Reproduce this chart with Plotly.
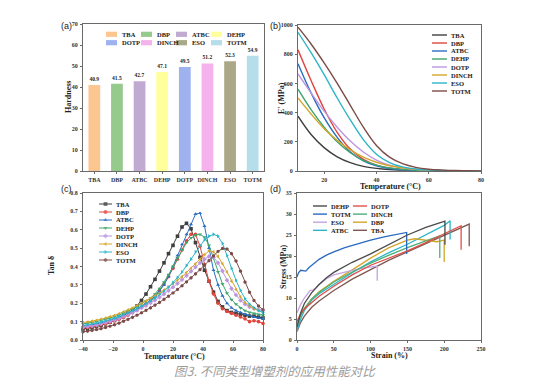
import plotly.graph_objects as go

W, H = 541, 392

# ---------------- data ----------------
plasticizers = ["TBA", "DBP", "ATBC", "DEHP", "DOTP", "DINCH", "ESO", "TOTM"]

# (a) hardness
hardness = [40.9, 41.5, 42.7, 47.1, 49.5, 51.2, 52.3, 54.9]
hardness_labels = ["40.9", "41.5", "42.7", "47.1", "49.5", "51.2", "52.3", "54.9"]

# (b) storage modulus E' (MPa) vs temperature
temp_b = [10, 15, 20, 25, 30, 35, 40, 45, 50, 55, 60, 65, 70, 75, 80]
E_TBA = [375, 250, 160, 97, 57, 32, 18, 10, 6, 3, 2, 1, 1, 0, 0]
E_DBP = [830, 620, 425, 265, 150, 80, 40, 20, 10, 5, 3, 2, 1, 1, 0]
E_ATBC = [735, 535, 365, 230, 130, 70, 35, 17, 8, 4, 2, 1, 1, 0, 0]
E_DEHP = [560, 420, 300, 200, 125, 72, 40, 21, 11, 6, 3, 2, 1, 1, 0]
E_DOTP = [665, 535, 410, 300, 205, 130, 75, 40, 21, 11, 6, 3, 2, 1, 1]
E_DINCH = [500, 390, 290, 210, 145, 95, 60, 36, 21, 12, 7, 4, 2, 1, 1]
E_ESO = [950, 810, 660, 500, 350, 215, 115, 58, 28, 14, 7, 3, 2, 1, 1]
E_TOTM = [985, 870, 740, 600, 450, 300, 175, 95, 50, 25, 12, 6, 3, 2, 1]

# (c) tan delta vs temperature
temp_c = [-40, -37, -34, -31, -28, -25, -22, -19, -16, -13, -10, -7, -4, -1, 2, 5, 8, 11, 14, 17,
          20, 23, 26, 29, 32, 35, 38, 41, 44, 47, 50, 53, 56, 59, 62, 65, 68, 71, 74, 77, 80]
tan_TBA = [0.060, 0.063, 0.068, 0.074, 0.080, 0.088, 0.097, 0.107, 0.118, 0.130, 0.145, 0.162, 0.185, 0.215,
           0.250, 0.290, 0.330, 0.375, 0.420, 0.470, 0.515, 0.565, 0.615, 0.635, 0.605, 0.530, 0.450, 0.380,
           0.320, 0.260, 0.210, 0.180, 0.160, 0.150, 0.145, 0.140, 0.135, 0.130, 0.130, 0.125, 0.120]
tan_DBP = [0.065, 0.068, 0.072, 0.077, 0.083, 0.089, 0.096, 0.104, 0.113, 0.123, 0.135, 0.148, 0.162, 0.178,
           0.195, 0.215, 0.240, 0.270, 0.305, 0.345, 0.390, 0.440, 0.490, 0.540, 0.575, 0.575, 0.510, 0.410,
           0.320, 0.250, 0.200, 0.170, 0.155, 0.145, 0.135, 0.125, 0.115, 0.100, 0.105, 0.100, 0.090]
tan_ATBC = [0.075, 0.078, 0.082, 0.087, 0.093, 0.099, 0.106, 0.114, 0.123, 0.133, 0.144, 0.156, 0.169, 0.183,
            0.198, 0.215, 0.235, 0.265, 0.300, 0.345, 0.400, 0.460, 0.520, 0.575, 0.630, 0.685, 0.690, 0.620,
            0.500, 0.380, 0.300, 0.240, 0.200, 0.175, 0.160, 0.150, 0.140, 0.135, 0.125, 0.120, 0.115]
tan_DEHP = [0.088, 0.091, 0.095, 0.100, 0.106, 0.112, 0.119, 0.127, 0.136, 0.146, 0.157, 0.169, 0.182, 0.196,
            0.211, 0.228, 0.250, 0.280, 0.315, 0.355, 0.400, 0.445, 0.490, 0.530, 0.555, 0.570, 0.575, 0.560,
            0.515, 0.445, 0.370, 0.305, 0.255, 0.220, 0.195, 0.175, 0.160, 0.150, 0.145, 0.140, 0.135]
tan_DOTP = [0.070, 0.073, 0.077, 0.082, 0.088, 0.094, 0.101, 0.109, 0.118, 0.128, 0.138, 0.149, 0.161, 0.174,
            0.187, 0.201, 0.216, 0.232, 0.250, 0.268, 0.287, 0.307, 0.328, 0.350, 0.373, 0.397, 0.420, 0.440,
            0.455, 0.450, 0.420, 0.375, 0.325, 0.280, 0.245, 0.215, 0.195, 0.180, 0.170, 0.165, 0.160]
tan_DINCH = [0.095, 0.098, 0.102, 0.107, 0.113, 0.119, 0.126, 0.134, 0.143, 0.153, 0.163, 0.174, 0.186, 0.199,
             0.212, 0.226, 0.240, 0.255, 0.271, 0.288, 0.306, 0.325, 0.345, 0.367, 0.390, 0.415, 0.440, 0.465,
             0.485, 0.480, 0.455, 0.415, 0.370, 0.320, 0.275, 0.235, 0.205, 0.185, 0.170, 0.160, 0.150]
tan_ESO = [0.080, 0.083, 0.087, 0.092, 0.098, 0.104, 0.111, 0.119, 0.128, 0.138, 0.148, 0.159, 0.171, 0.184,
           0.198, 0.213, 0.229, 0.247, 0.266, 0.288, 0.312, 0.340, 0.370, 0.405, 0.440, 0.480, 0.515, 0.545,
           0.565, 0.575, 0.565, 0.525, 0.460, 0.390, 0.325, 0.270, 0.225, 0.195, 0.175, 0.160, 0.150]
tan_TOTM = [0.045, 0.048, 0.052, 0.057, 0.062, 0.068, 0.075, 0.083, 0.092, 0.102, 0.112, 0.123, 0.135, 0.148,
            0.161, 0.175, 0.190, 0.205, 0.221, 0.238, 0.256, 0.275, 0.295, 0.316, 0.338, 0.360, 0.383, 0.407,
            0.432, 0.458, 0.482, 0.498, 0.495, 0.470, 0.430, 0.375, 0.315, 0.260, 0.215, 0.185, 0.165]

# (d) stress-strain curves
strain_DEHP = [0, 5, 10, 20, 30, 40, 50, 75, 100, 125, 150, 175, 201, 201]
stress_DEHP = [3.0, 6.5, 8.7, 11.3, 13.2, 14.8, 16.1, 18.5, 20.5, 22.8, 25.0, 26.8, 28.3, 22.7]
strain_DOTP = [0, 5, 10, 20, 30, 50, 75, 100, 125, 150, 175, 200, 223, 223]
stress_DOTP = [4.5, 6.2, 7.4, 9.0, 10.4, 12.8, 15.5, 17.8, 19.5, 21.2, 23.2, 25.2, 27.2, 21.5]
strain_TOTM = [0, 2, 5, 8, 12, 16, 20, 25, 30, 40, 50, 65, 80, 100, 120, 135, 149, 149]
stress_TOTM = [15.0, 16.0, 16.6, 16.5, 16.4, 17.2, 17.8, 18.6, 19.2, 20.2, 21.0, 22.0, 22.8, 23.8, 24.6, 25.1, 25.6, 20.5]
strain_DINCH = [0, 5, 10, 20, 30, 50, 75, 100, 125, 150, 175, 194, 194]
stress_DINCH = [3.5, 5.8, 7.5, 9.8, 11.3, 13.8, 16.2, 18.3, 20.2, 22.0, 23.6, 24.8, 19.5]
strain_ESO = [0, 5, 10, 15, 18, 22, 25, 30, 40, 50, 60, 75, 90, 100, 109, 109]
stress_ESO = [6.5, 8.5, 10.0, 11.2, 11.8, 11.9, 12.3, 13.2, 14.6, 15.5, 16.0, 16.6, 17.1, 17.3, 17.6, 14.1]
strain_DBP = [0, 5, 10, 20, 30, 50, 75, 100, 125, 150, 160, 175, 190, 200, 200]
stress_DBP = [4.0, 6.0, 7.5, 9.8, 11.5, 14.0, 16.7, 19.5, 22.0, 23.8, 24.1, 23.8, 23.4, 23.8, 18.6]
strain_ATBC = [0, 5, 10, 20, 30, 50, 75, 100, 125, 150, 175, 200, 208, 208]
stress_ATBC = [2.2, 5.0, 7.0, 9.5, 11.0, 13.3, 16.0, 18.6, 20.8, 22.8, 25.0, 27.3, 28.4, 23.9]
strain_TBA = [0, 5, 10, 20, 30, 50, 75, 100, 125, 150, 175, 200, 234, 234]
stress_TBA = [2.0, 4.2, 5.7, 7.8, 9.3, 11.8, 14.5, 16.8, 19.0, 21.0, 23.0, 25.0, 27.6, 22.3]

# ---------------- styles ----------------
bar_colors = ["#FBC690", "#96C98C", "#C0AAD2", "#FFFF9C", "#9FB2F0", "#F5B3EC", "#ABA888", "#B5DEEA"]
line_colors = {"TBA": "#3f3f3f", "DBP": "#e0463e", "ATBC": "#2a6ec0", "DEHP": "#3fa56c",
               "DOTP": "#bd96e2", "DINCH": "#d3a52c", "ESO": "#2cb5c7", "TOTM": "#7b4c48"}
markers = {"TBA": "square", "DBP": "circle", "ATBC": "triangle-up", "DEHP": "triangle-down",
           "DOTP": "diamond", "DINCH": "triangle-left", "ESO": "triangle-right", "TOTM": "hexagon"}
d_order = ["DEHP", "DOTP", "TOTM", "DINCH", "ESO", "DBP", "ATBC", "TBA"]
d_colors = {"DEHP": "#4a4a4a", "DOTP": "#e04f49", "TOTM": "#2a69c0", "DINCH": "#4caf78",
            "ESO": "#c4a2e2", "DBP": "#d4a52a", "ATBC": "#2cb5c7", "TBA": "#7d5852"}

SERIF = "Liberation Serif"
tickfont = dict(family=SERIF, size=6, color="#333333", weight="bold")
titlefont = dict(family=SERIF, size=8, color="#222222", weight="bold")
legfont = dict(family=SERIF, size=6.5, color="#222222", weight="bold")


def px(x):
    return x / W


def py(y):
    return 1 - y / H


# panel boxes in pixels (x0, x1, ytop, ybottom)
A = (83, 264, 24, 171)
B = (298, 481, 25, 171)
C = (83, 263, 193, 340)
D = (297, 481, 193, 340)


def axis(box, horiz, **kw):
    dom = [px(box[0]), px(box[1])] if horiz else [py(box[3]), py(box[2])]
    base = dict(domain=dom, showline=True, linecolor="#6a6a6a", linewidth=1, mirror=True,
                ticks="outside", ticklen=2, tickwidth=1, tickcolor="#6a6a6a", showgrid=False,
                zeroline=False, tickfont=tickfont, ticklabelstandoff=1, automargin=False)
    base.update(kw)
    return base


fig = go.Figure()

# (a) bars
fig.add_trace(go.Bar(x=plasticizers, y=hardness, marker=dict(color=bar_colors, line=dict(width=0)),
                     width=0.52, text=hardness_labels, textposition="outside", cliponaxis=False,
                     textfont=dict(family=SERIF, size=5.5, color="#222", weight="bold"),
                     xaxis="x", yaxis="y", showlegend=False))

# (b) E' curves
E_series = [E_TBA, E_DBP, E_ATBC, E_DEHP, E_DOTP, E_DINCH, E_ESO, E_TOTM]
for name, vals in zip(plasticizers, E_series):
    fig.add_trace(go.Scatter(x=temp_b, y=vals, mode="lines", line=dict(color=line_colors[name], width=1.4,
                             shape="spline", smoothing=1.0), xaxis="x2", yaxis="y2", showlegend=False))

# (c) tan delta
tan_series = [tan_TBA, tan_DBP, tan_ATBC, tan_DEHP, tan_DOTP, tan_DINCH, tan_ESO, tan_TOTM]
for name, vals in zip(plasticizers, tan_series):
    fig.add_trace(go.Scatter(x=temp_c, y=vals, mode="lines+markers",
                             line=dict(color=line_colors[name], width=1),
                             marker=dict(symbol=markers[name], size=3.6, color=line_colors[name]),
                             cliponaxis=False, xaxis="x3", yaxis="y3", showlegend=False))

# (d) stress-strain
d_data = {"DEHP": (strain_DEHP, stress_DEHP), "DOTP": (strain_DOTP, stress_DOTP),
          "TOTM": (strain_TOTM, stress_TOTM), "DINCH": (strain_DINCH, stress_DINCH),
          "ESO": (strain_ESO, stress_ESO), "DBP": (strain_DBP, stress_DBP),
          "ATBC": (strain_ATBC, stress_ATBC), "TBA": (strain_TBA, stress_TBA)}
for name in reversed(d_order):
    sx, sy = d_data[name]
    fig.add_trace(go.Scatter(x=sx, y=sy, mode="lines", line=dict(color=d_colors[name], width=1.3),
                             xaxis="x4", yaxis="y4", showlegend=False))

shapes = []
annotations = []

# legend (a): 2 rows x 4 columns of patches
for i, name in enumerate(plasticizers):
    r, c = divmod(i, 4)
    x0 = 106 + 35 * c
    yc = 34.3 + 8.4 * r
    shapes.append(dict(type="rect", xref="paper", yref="paper", x0=px(x0), x1=px(x0 + 11),
                       y0=py(yc + 2.6), y1=py(yc - 2.6), fillcolor=bar_colors[i], line=dict(width=0)))
    annotations.append(dict(x=px(x0 + 13.5), y=py(yc), xref="paper", yref="paper", text=name,
                            showarrow=False, xanchor="left", yanchor="middle", font=legfont))

# legend (b)
for i, name in enumerate(plasticizers):
    yc = 35 + 8 * i
    shapes.append(dict(type="line", xref="paper", yref="paper", x0=px(432), x1=px(447),
                       y0=py(yc), y1=py(yc), line=dict(color=line_colors[name], width=1.4)))
    annotations.append(dict(x=px(449), y=py(yc), xref="paper", yref="paper", text=name,
                            showarrow=False, xanchor="left", yanchor="middle", font=legfont))

# legend (c) with markers on a full-figure pixel overlay axis
for i, name in enumerate(plasticizers):
    yc = 204 + 8 * i
    fig.add_trace(go.Scatter(x=[99, 105.5, 112], y=[yc, yc, yc], mode="lines+markers",
                             line=dict(color=line_colors[name], width=1),
                             marker=dict(symbol=markers[name], size=[0, 3.8, 0], color=line_colors[name],
                                         line=dict(width=0)),
                             xaxis="x9", yaxis="y9", showlegend=False, hoverinfo="skip"))
    annotations.append(dict(x=px(114), y=py(yc), xref="paper", yref="paper", text=name,
                            showarrow=False, xanchor="left", yanchor="middle", font=legfont))

# legend (d): 2 columns
for i, name in enumerate(d_order):
    r, c = divmod(i, 2)
    x0 = 313 + 40 * c
    yc = 206 + 8.1 * r
    shapes.append(dict(type="line", xref="paper", yref="paper", x0=px(x0), x1=px(x0 + 14),
                       y0=py(yc), y1=py(yc), line=dict(color=d_colors[name], width=1.4)))
    annotations.append(dict(x=px(x0 + 16), y=py(yc), xref="paper", yref="paper", text=name,
                            showarrow=False, xanchor="left", yanchor="middle", font=legfont))

# panel labels
for lab, (x, y) in {"(a)": (60, 20), "(b)": (275, 20), "(c)": (60, 189), "(d)": (275, 189)}.items():
    annotations.append(dict(x=px(x), y=py(y), xref="paper", yref="paper", text=lab, showarrow=False,
                            font=dict(family="Liberation Sans", size=9, color="#222"), borderpad=0))

# axis titles
titles = [("Hardness", 68, 97, -90), ("E' (MPa)", 281, 98, -90), ("Temperature (°C)", 390, 186.5, 0),
          ("Tan δ", 51, 266, -90), ("Temperature (°C)", 174, 356, 0),
          ("Stress (MPa)", 283, 267, -90), ("Strain (%)", 389, 355, 0)]
for txt, x, y, ang in titles:
    annotations.append(dict(x=px(x), y=py(y), xref="paper", yref="paper", text=txt, showarrow=False,
                            textangle=ang, font=titlefont, xanchor="center", yanchor="middle",
                            borderpad=0))

# caption
annotations.append(dict(x=px(275), y=py(382), xref="paper", yref="paper",
                        text="图3. 不同类型增塑剂的应用性能对比", showarrow=False,
                        font=dict(family="Noto Sans CJK SC", size=12.5, color="#9c9c9c", style="italic")))

fig.update_layout(
    template="none",
    width=W, height=H, margin=dict(l=0, r=0, t=0, b=0, pad=0, autoexpand=False),
    paper_bgcolor="white", plot_bgcolor="rgba(0,0,0,0)", showlegend=False,
    xaxis=axis(A, True, anchor="y", type="category", range=[-0.5, 7.5], ticks="outside"),
    yaxis=axis(A, False, anchor="x", range=[0, 70], dtick=10),
    xaxis2=axis(B, True, anchor="y2", range=[10, 80], tickvals=[20, 40, 60, 80]),
    yaxis2=axis(B, False, anchor="x2", range=[0, 1000], dtick=200),
    xaxis3=axis(C, True, anchor="y3", range=[-40, 80], dtick=20),
    yaxis3=axis(C, False, anchor="x3", range=[0, 0.8], dtick=0.1, tickformat=".1f"),
    xaxis4=axis(D, True, anchor="y4", range=[0, 250], dtick=50),
    yaxis4=axis(D, False, anchor="x4", range=[0, 35], dtick=5),
    xaxis9=dict(domain=[0, 1], range=[0, W], visible=False, anchor="y9", fixedrange=True),
    yaxis9=dict(domain=[0, 1], range=[H, 0], visible=False, anchor="x9", fixedrange=True),
    shapes=shapes, annotations=annotations,
)

fig.write_html("out.html", config={"displayModeBar": False},
               post_script="document.body.style.margin='0';document.body.style.overflow='hidden';")
